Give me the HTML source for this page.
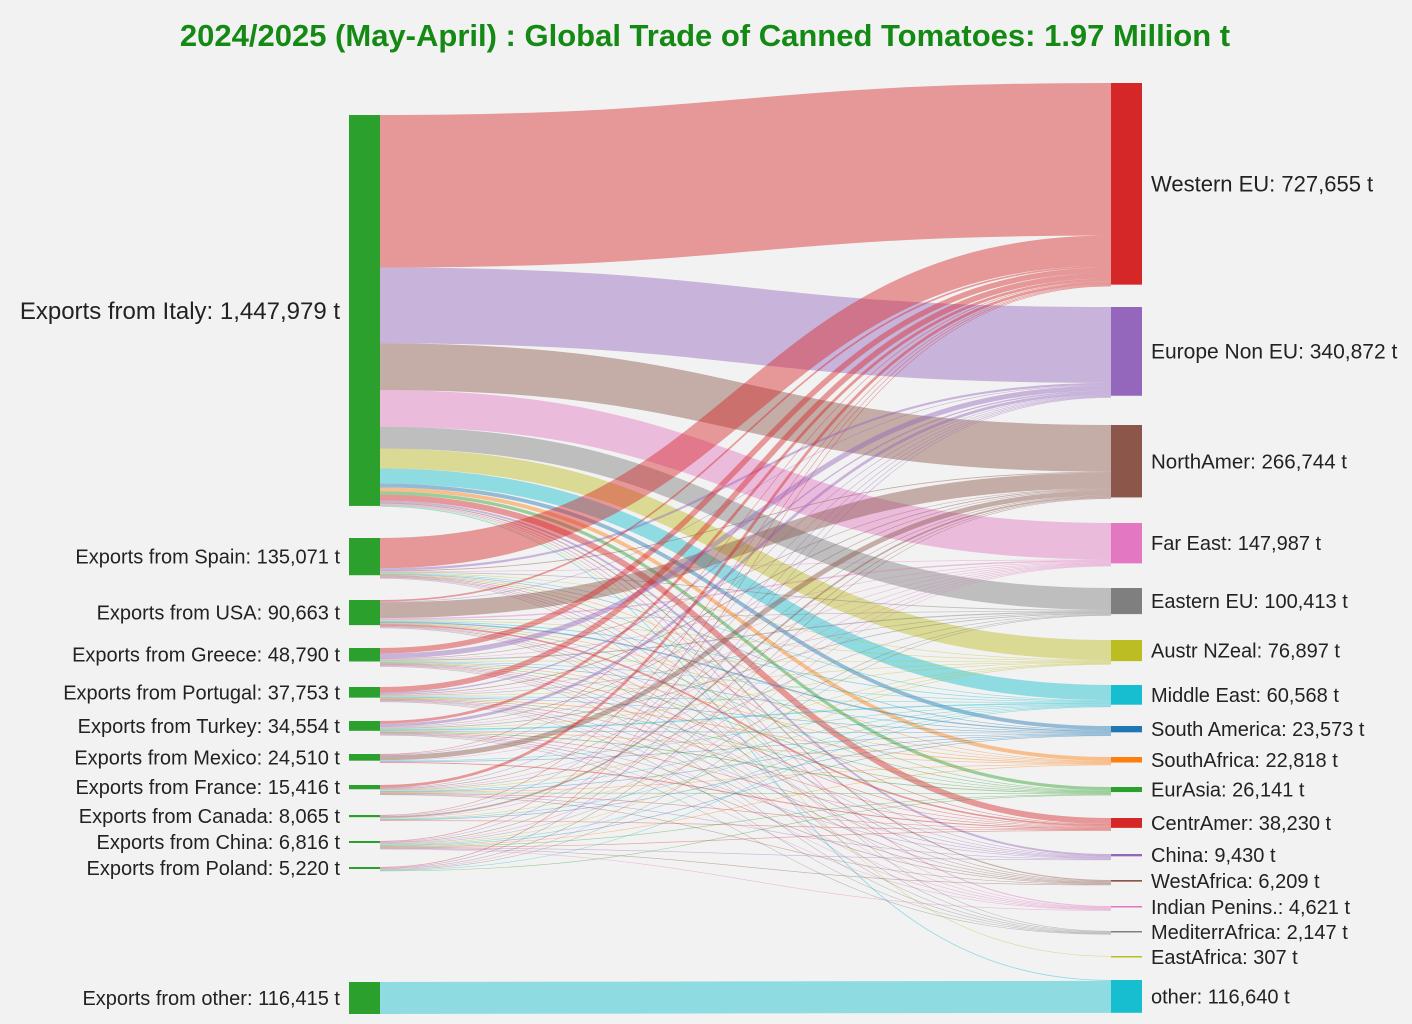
<!DOCTYPE html>
<html><head><meta charset="utf-8"><style>
body{margin:0;background:#f2f2f2;}
svg{display:block;font-family:"Liberation Sans",Arial,sans-serif;}
</style></head><body>
<svg id="s" width="1412" height="1024" viewBox="0 0 1412 1024">
<rect width="1412" height="1024" fill="#f2f2f2"/>
<text x="705" y="46" text-anchor="middle" font-size="31" font-weight="bold" fill="#148a14">2024/2025 (May-April) : Global Trade of Canned Tomatoes: 1.97 Million t</text>
<g id="links"></g><g id="nodes"></g>
</svg>
<script>
const S=[["Exports from Italy: 1,447,979 t",115,24],["Exports from Spain: 135,071 t",538,20],["Exports from USA: 90,663 t",600,20],["Exports from Greece: 48,790 t",648,20],["Exports from Portugal: 37,753 t",687,20],["Exports from Turkey: 34,554 t",721,20],["Exports from Mexico: 24,510 t",754,20],["Exports from France: 15,416 t",785,20],["Exports from Canada: 8,065 t",815,20],["Exports from China: 6,816 t",841,20],["Exports from Poland: 5,220 t",867,20],["Exports from other: 116,415 t",982,20]];
const T=[["Western EU: 727,655 t",83,"#d62728",22],["Europe Non EU: 340,872 t",307,"#9467bd",21],["NorthAmer: 266,744 t",425,"#8c564b",20.5],["Far East: 147,987 t",523,"#e377c2",20],["Eastern EU: 100,413 t",588,"#7f7f7f",20],["Austr NZeal: 76,897 t",640,"#bcbd22",20],["Middle East: 60,568 t",685,"#17becf",20],["South America: 23,573 t",726,"#1f77b4",20],["SouthAfrica: 22,818 t",757,"#ff7f0e",20],["EurAsia: 26,141 t",787,"#2ca02c",20],["CentrAmer: 38,230 t",818,"#d62728",20],["China: 9,430 t",854,"#9467bd",20],["WestAfrica: 6,209 t",880,"#8c564b",20],["Indian Penins.: 4,621 t",906,"#e377c2",20],["MediterrAfrica: 2,147 t",931,"#7f7f7f",20],["EastAfrica: 307 t",956,"#bcbd22",20],["other: 116,640 t",980,"#17becf",20]];
const F=[
[555,276,170,133,80,72,55,14,14,12,22,7,4,4,1,0.3,3],
[110,8,3,2,3,1,2,1,1,1,2,0.5,0.5,0.2,0.2,0,0],
[6,2,58,5,1,2,3,5,1,1,6,0.5,0.5,0.2,0.2,0,0],
[20,18,2,1,4,0.5,2,0.2,0.2,0.5,0.2,0.1,0.2,0.1,0.1,0,0],
[20,5,3,1,2,0.3,2,0.3,3,0.3,1,0.1,0.5,0.1,0.1,0,0],
[10,10,2,1,3,0.3,5,0.3,0.3,3,0.3,0.1,0.2,0.1,0.1,0,0],
[0.5,0.2,18,0.3,0,0,0.3,1.5,0,0,3.5,0,0,0,0,0,0],
[10,2,1,0.3,0.3,0.2,1,0.1,0.1,0.1,0.2,0.1,0.1,0,0,0,0],
[0.3,0.2,6,0.5,0,0.2,0.2,0.1,0,0,0.5,0,0,0,0,0,0],
[0.3,0.3,0.3,2.5,0.2,0.5,1,0.5,0.5,0.3,0.2,0.1,0.1,0.1,0,0,0],
[1.5,1.2,0.2,0.2,1.5,0,0.2,0,0,0.2,0,0,0,0,0,0,0],
[0,0,0,0,0,0,0,0,0,0,0,0,0,0,0,0,116.4]];
const k=398/1448;
const ts=T.map((t,j)=>F.reduce((a,r)=>a+r[j],0));
const ss=F.map(r=>r.reduce((a,b)=>a+b,0));
let so=S.map(s=>s[1]), to=T.map(t=>t[1]);
let L="",N="";
const x0=380,x1=1111,xm=(x0+x1)/2;
F.forEach((r,i)=>{r.forEach((v,j)=>{if(!v)return;const h=Math.max(v*k,0.6);
const a=so[i],b=to[j];so[i]+=h;to[j]+=h;
const c=T[j][2];
L+=`<path d="M${x0},${a+h/2} C${xm},${a+h/2} ${xm},${b+h/2} ${x1},${b+h/2}" stroke="${c}" stroke-opacity="0.45" stroke-width="${h}" fill="none"/>`;});});
S.forEach((s,i)=>{const h=Math.max(ss[i]*k,2);N+=`<rect x="349" y="${s[1]}" width="31" height="${h}" fill="#2ca02c"/><text x="340" y="${s[1]+h/2+s[2]*0.35}" text-anchor="end" font-size="${s[2]}" fill="#222">${s[0]}</text>`;});
T.forEach((t,j)=>{const h=Math.max(ts[j]*k,1.5);N+=`<rect x="1111" y="${t[1]}" width="31" height="${h}" fill="${t[2]}"/><text x="1151" y="${t[1]+h/2+t[3]*0.35}" font-size="${t[3]}" fill="#222">${t[0]}</text>`;});
document.getElementById("links").innerHTML=L;document.getElementById("nodes").innerHTML=N;
</script>
</body></html>
